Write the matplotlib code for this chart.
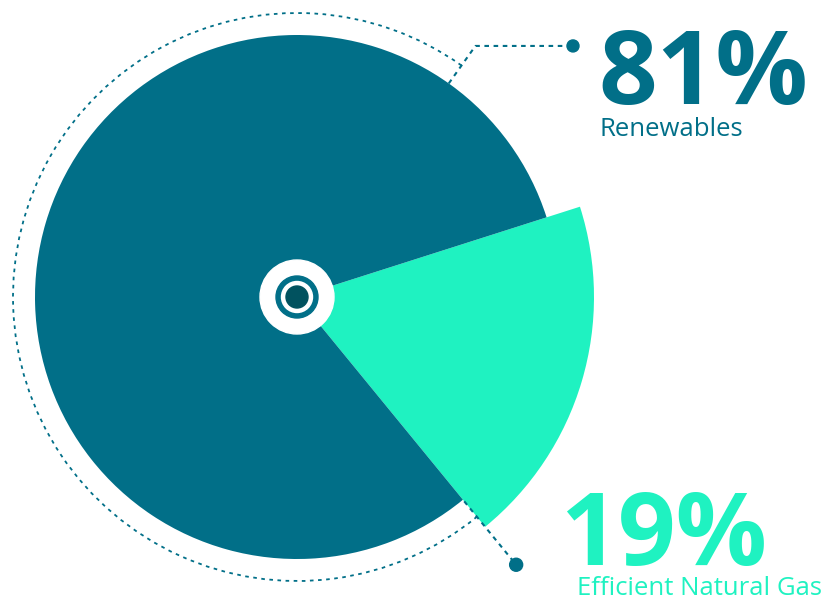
import numpy as np
import matplotlib
matplotlib.use("Agg")
import matplotlib.pyplot as plt
from matplotlib.patches import Arc, Circle

labels = ["Efficient Natural Gas", "Renewables"]
values = [19, 81]
pct_text = ["19%", "81%"]
colors = ["#1ff2c1", "#016f88"]

W, H = 827, 600
fig = plt.figure(figsize=(W / 100, H / 100), dpi=100)
ax = fig.add_axes([0, 0, 1, 1])

cx, cy = 297, H - 297
start = -50.7
wedges, _ = ax.pie(values, colors=colors, startangle=start, counterclock=True,
                   radius=262, center=(cx, cy), frame=True,
                   wedgeprops=dict(linewidth=0))
wedges[0].set_radius(297)
ax.set_xlim(0, W)
ax.set_ylim(0, H)
ax.set_aspect("equal")
ax.axis("off")

line_c = "#016f88"
# dotted outer arc
arc = Arc((cx, cy), 2 * 284, 2 * 284, theta1=54.6, theta2=360 + start,
          color=line_c, lw=1.3, linestyle=(0, (2, 2.5)), zorder=1)
ax.add_patch(arc)

# top leader
a = np.radians(54.6)
r0, r1 = 262, 308
x0, y0 = cx + r0 * np.cos(a), cy + r0 * np.sin(a)
x1, y1 = cx + r1 * np.cos(a), cy + r1 * np.sin(a)
ax.plot([x0, x1, 573], [y0, y1, y1], color=line_c, lw=1.5,
        linestyle=(0, (2.2, 2.2)), zorder=3)
ax.add_patch(Circle((573, y1), 6, color=line_c, zorder=4))

# bottom leader
b = np.radians(start)
r0, r1 = 264, 346
ax.plot([cx + r0 * np.cos(b), cx + r1 * np.cos(b)],
        [cy + r0 * np.sin(b), cy + r1 * np.sin(b)], color=line_c, lw=1.5,
        linestyle=(0, (2.2, 2.2)), zorder=3)
ax.add_patch(Circle((cx + r1 * np.cos(b), cy + r1 * np.sin(b)), 6.5,
                    color=line_c, zorder=4))

# center target
ax.add_patch(Circle((cx, cy), 37, color="white", zorder=5))
ax.add_patch(Circle((cx, cy), 21, color="#016f88", zorder=6))
ax.add_patch(Circle((cx, cy), 15.5, color="white", zorder=7))
ax.add_patch(Circle((cx, cy), 11, color="#01525f", zorder=8))

font = "Open Sans"
ax.text(598, H - 104, pct_text[1], fontsize=74, fontweight="bold",
        family=font, color=colors[1], ha="left", va="baseline")
ax.text(599, H - 136, labels[1], fontsize=18.5, family=font,
        color=colors[1], ha="left", va="baseline")
ax.text(560, H - 565, pct_text[0], fontsize=73, fontweight="bold",
        family=font, color=colors[0], ha="left", va="baseline")
ax.text(577, H - 595, labels[0], fontsize=18.5, family=font,
        color=colors[0], ha="left", va="baseline")

fig.savefig("out.png", dpi=100)
